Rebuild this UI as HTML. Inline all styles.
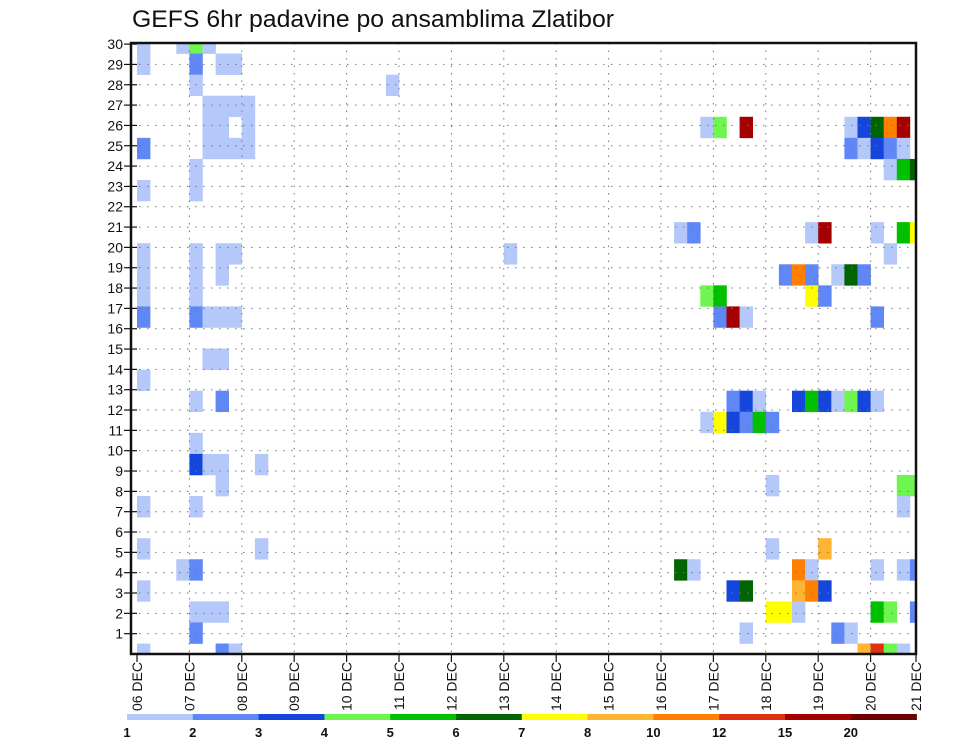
<!DOCTYPE html>
<html><head><meta charset="utf-8">
<style>
html,body{margin:0;padding:0;background:#fff;}
svg{display:block;font-family:"Liberation Sans",sans-serif;}
</style></head>
<body>
<svg id="chart" width="960" height="742" viewBox="0 0 960 742" xmlns="http://www.w3.org/2000/svg">
<text x="132" y="27" font-size="24" textLength="482" lengthAdjust="spacingAndGlyphs" fill="#111">GEFS 6hr padavine po ansamblima Zlatibor</text>
<defs><clipPath id="plotclip"><rect x="131" y="43" width="785" height="611"/></clipPath></defs>
<g id="cells" clip-path="url(#plotclip)"></g>
<g id="grid"></g>
<g id="axes"></g>
<g id="cbar"></g>
</svg>
<script>
// ---- data ----
const dayLabels = ["06 DEC","07 DEC","08 DEC","09 DEC","10 DEC","11 DEC","12 DEC","13 DEC","14 DEC","15 DEC","16 DEC","17 DEC","18 DEC","19 DEC","20 DEC","21 DEC"];
const memberLabels = [1,2,3,4,5,6,7,8,9,10,11,12,13,14,15,16,17,18,19,20,21,22,23,24,25,26,27,28,29,30];
const levelLabels = ["1","2","3","4","5","6","7","8","10","12","15","20"];
const levelColors = ["#b4c8fa","#5f87f5","#1446dc","#6ef550","#00c000","#006400","#ffff00","#ffb432","#ff8000","#e03010","#a50000","#6e0000"];
// cell: 6-hourly step index, ensemble row from top, precipitation level (1..12)
const cellStep = [0,3,4,5, 0,4,6,7, 4,19, 5,6,7,8, 5,6,8,43,44,46,54,55,56,57,58, 0,5,6,7,8,54,55,56,57,58, 4,57,58,59, 0,4, 41,42,51,52,56,58,59, 0,4,6,7,28,57, 0,4,6,49,50,51,53,54,55, 0,4,43,44,51,52, 0,4,5,6,7,44,45,46,56, 5,6, 0, 4,6,45,46,47,50,51,52,53,54,55,56, 43,44,45,46,47,48, 4, 4,5,6,9, 6,48,58,59, 0,4,58, 0,9,48,52, 3,4,41,42,50,51,56,58,59, 0,45,46,50,51,52, 4,5,6,48,49,50,56,57,59, 4,46,53,54, 0,6,7,55,56,57,58];
const cellRow = [0,0,0,0, 1,1,1,1, 2,2, 3,3,3,3, 4,4,4,4,4,4,4,4,4,4,4, 5,5,5,5,5,5,5,5,5,5, 6,6,6,6, 7,7, 9,9,9,9,9,9,9, 10,10,10,10,10,10, 11,11,11,11,11,11,11,11,11, 12,12,12,12,12,12, 13,13,13,13,13,13,13,13,13, 15,15, 16, 17,17,17,17,17,17,17,17,17,17,17,17, 18,18,18,18,18,18, 19, 20,20,20,20, 21,21,21,21, 22,22,22, 24,24,24,24, 25,25,25,25,25,25,25,25,25, 26,26,26,26,26,26, 27,27,27,27,27,27,27,27,27, 28,28,28,28, 29,29,29,29,29,29,29];
const cellLevel = [1,1,4,1, 1,2,1,1, 1,1, 1,1,1,1, 1,1,1,1,4,11,1,3,6,9,11, 2,1,1,1,1,2,1,3,2,1, 1,1,5,6, 1,1, 1,2,1,11,1,5,7, 1,1,1,1,1,1, 1,1,1,2,9,2,1,6,2, 1,1,4,5,7,2, 2,2,1,1,1,2,11,1,2, 1,1, 1, 1,2,2,3,1,3,5,3,1,4,3,1, 1,7,3,2,5,2, 1, 3,1,1,1, 1,1,4,4, 1,1,1, 1,1,1,8, 1,2,6,1,9,1,1,1,2, 1,3,6,8,9,3, 1,1,1,7,7,1,5,4,2, 2,1,2,1, 1,2,1,8,10,4,1];

// ---- scales ----
const NS="http://www.w3.org/2000/svg";
const X0=137, STEP=13.1, DAY=52.4;
const xStep = i => X0 + i*STEP;
const xDay = d => X0 + d*DAY;
const ROWH=21.07, ROW0=32.5;
const yRowTop = k => ROW0 + k*ROWH;
const yMember = m => 654 - m*20.33;
function mk(tag, attrs, parent){const e=document.createElementNS(NS,tag);for(const k in attrs)e.setAttribute(k,attrs[k]);parent.appendChild(e);return e;}

const gCells=document.getElementById('cells');
for(let i=0;i<cellStep.length;i++){
  const r=mk('rect',{x:xStep(cellStep[i]),y:yRowTop(cellRow[i]),width:STEP+0.3,height:ROWH+0.3,fill:levelColors[cellLevel[i]-1]},gCells);
  
  
}

const gGrid=document.getElementById('grid');
for(let m=1;m<=29;m++){
  const l=mk('line',{x1:131,x2:916,y1:yMember(m),y2:yMember(m),stroke:'#777','stroke-width':1,'stroke-dasharray':'1.5 6.5'},gGrid);
  
  
}
for(let d=1;d<15;d++){
  const l=mk('line',{x1:xDay(d),x2:xDay(d),y1:43,y2:654,stroke:'#777','stroke-width':1,'stroke-dasharray':'1.5 6'},gGrid);
  
  
}

const gAx=document.getElementById('axes');
const frame=mk('rect',{x:131,y:43,width:785,height:611,fill:'none',stroke:'#111','stroke-width':2.5},gAx);


memberLabels.forEach(m=>{
  const y=yMember(m);
  const t=mk('line',{x1:124,x2:137,y1:y,y2:y,stroke:'#111','stroke-width':1.2},gAx);
  
  
  const tx=mk('text',{x:123,y:y+5,'font-size':14,'text-anchor':'end',fill:'#111'},gAx);
  tx.textContent=m;
  
  
});
dayLabels.forEach((lab,d)=>{
  const x=Math.min(xDay(d),916);
  const t=mk('line',{x1:x,x2:x,y1:654,y2:662,stroke:'#111','stroke-width':1.2},gAx);
  
  
  const tx=mk('text',{x:x+5,y:662,'font-size':14,'text-anchor':'end',fill:'#111',transform:`rotate(-90 ${x+5} 662)`},gAx);
  tx.textContent=lab;
  
  
});

const gC=document.getElementById('cbar');
const CB0=127, CBW=65.8;
levelColors.forEach((c,i)=>{
  const r=mk('rect',{x:CB0+i*CBW,y:714,width:CBW+0.3,height:6,fill:c},gC);
  
  
});
levelLabels.forEach((l,i)=>{
  const t=mk('text',{x:CB0+i*CBW,y:737,'font-size':13,'font-weight':'bold','text-anchor':'middle',fill:'#111'},gC);
  t.textContent=l;
  
  
});
</script>
</body></html>
